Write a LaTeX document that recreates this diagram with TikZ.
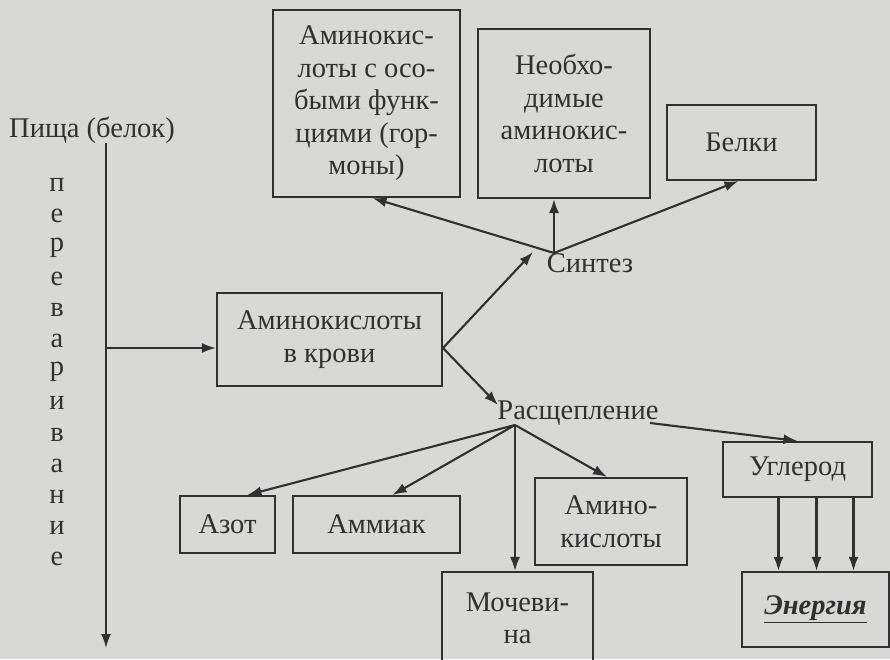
\documentclass[tikz,border=0pt]{standalone}
\usepackage{fontspec}
\setmainfont{Liberation Serif}
\usetikzlibrary{arrows.meta,calc}
\definecolor{pagegray}{RGB}{216,216,214}
\definecolor{inkgray}{RGB}{48,48,48}

\begin{document}
\begin{tikzpicture}[
  x=1pt,y=-1pt,
  font=\fontsize{28.5}{32.5}\selectfont,
  text=inkgray,
  arrow/.style={-{Latex[length=14pt,width=10pt]},line width=2.1pt,draw=inkgray},
  box/.style={draw=inkgray,line width=2.1pt,align=center,inner sep=2pt},
  word/.style={inner sep=1pt},
  letter/.style={inner sep=0pt}
]
\fill[pagegray] (0,0) rectangle (890,659);
\useasboundingbox (0,0) rectangle (890,659);

% -------------------------------------------------------------------------
% Digestion axis on the left.
% -------------------------------------------------------------------------
\node[word] (food) at (92,130) {Пища (белок)};
\coordinate (digtop) at (106,143);
\coordinate (digend) at (106,648);
\coordinate (branch) at (106,348);
\draw[arrow] (digtop) -- (digend);
\foreach \l [count=\i] in {п,е,р,е,в,а,р,и,в,а,н,и,е}
  {\node[letter] (dig\i) at (57,{185+31.2*(\i-1)}) {\l};}

\node[box,minimum width=225,minimum height=93] (blood) at (329.5,339.5)
  {Аминокислоты\\в крови};
\draw[arrow] (branch) -- (blood.west |- branch);
\coordinate (bloodout) at (443,348);

% -------------------------------------------------------------------------
% Synthesis branch.
% -------------------------------------------------------------------------
\node[word] (synth) at (590,263) {Синтез};
\coordinate (synthin) at (533,252);
\coordinate (synthhub) at (554,253);
\draw[arrow] (bloodout) -- (synthin);

\node[box,minimum width=187,minimum height=187] (hormones) at (366.5,103.5)
  {Аминокис-\\лоты с осо-\\быми функ-\\циями (гор-\\моны)};
\node[box,minimum width=172,minimum height=169] (essential) at (564,113.5)
  {Необхо-\\димые\\аминокис-\\лоты};
\node[box,minimum width=149,minimum height=75] (proteins) at (741.5,142.5)
  {Белки};
\draw[arrow] (synthhub) -- ($(hormones.south)+(6,0)$);
\draw[arrow] (synthhub) -- (synthhub |- essential.south);
\draw[arrow] (synthhub) -- ($(proteins.south)+(-3,0)$);

% -------------------------------------------------------------------------
% Breakdown branch.
% -------------------------------------------------------------------------
\node[word] (split) at (578,413) {Расщепление};
\coordinate (splitin) at (498,405);
\coordinate (splithub) at (515,425);
\coordinate (splitend) at (650,423);
\draw[arrow] (bloodout) -- (splitin);

\node[box,minimum width=95,minimum height=57] (nitrogen) at (227.5,524.5) {Азот};
\node[box,minimum width=167,minimum height=57] (ammonia) at (376.5,524.5) {Аммиак};
\node[box,minimum width=152,minimum height=87] (amino) at (611,521.5)
  {Амино-\\кислоты};
\node[box,minimum width=151,minimum height=93] (urea) at (517.5,618.5)
  {Мочеви-\\на};
\node[box,minimum width=149,minimum height=55] (carbon) at (797.5,469.5) {Углерод};
\node[box,minimum width=147,minimum height=75] (energy) at (815.5,609.5)
  {\underline{\textbf{\textit{Энергия}}}};

\draw[arrow] (splithub) -- ($(nitrogen.north)+(20,0)$);
\draw[arrow] (splithub) -- ($(ammonia.north)+(16,0)$);
\draw[arrow] (splithub) -- (splithub |- urea.north);
\draw[arrow] (splithub) -- ($(amino.north)+(-4,0)$);
\draw[arrow] (splitend) -- (carbon.north);
% Carbon gives energy along three parallel arrows.
\foreach \dx [count=\i] in {-37,1,38}
  {\coordinate (en\i) at ($(energy.north)+(\dx,0)$);
   \draw[arrow] (en\i |- carbon.south) -- (en\i);}
\end{tikzpicture}
\end{document}
